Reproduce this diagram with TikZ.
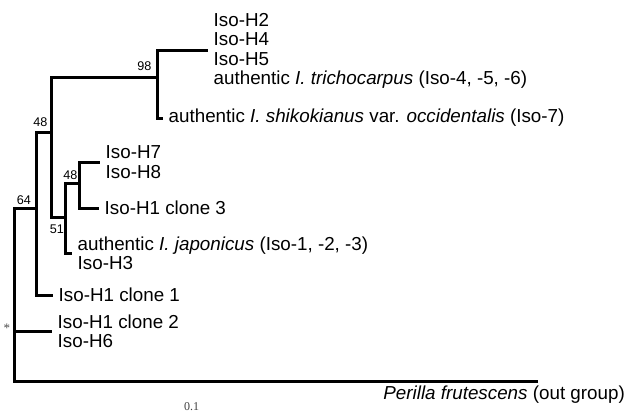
\documentclass[tikz,border=0pt]{standalone}
\usepackage{fontspec}
\setmainfont{Liberation Sans}
\newfontfamily\barlabelfont{Liberation Serif}
\begin{document}
\begin{tikzpicture}[
  x=1pt,y=-1pt,
  branch/.style={line width=3pt},
  leaf/.style={anchor=west,align=left,inner xsep=5.5pt,inner ysep=0pt,
    font=\fontsize{18.8}{19.3}\selectfont},
  boot/.style={inner sep=0pt,font=\fontsize{12.6}{13}\selectfont}
]
  \useasboundingbox (0,0) rectangle (627,412);
  \coordinate (root) at (14,331);
  \coordinate (n64) at (36,208);
  \coordinate (n48a) at (51,132);
  \coordinate (n98) at (157,78);
  \coordinate (n51) at (65,217);
  \coordinate (n48b) at (79,183);
  \coordinate (out tip) at (538,381);
  \node [leaf] (tri) at (208,51)
    {Iso-H2\\Iso-H4\\Iso-H5\\authentic \textit{I. trichocarpus} (Iso-4, -5, -6)};
  \node [leaf] (shi) at (163,118)
    {authentic \textit{I. shikokianus} var. \textit{occidentalis} (Iso-7)};
  \node [leaf] (h78) at (100,162) {Iso-H7\\Iso-H8};
  \node [leaf] (c3) at (99,208) {Iso-H1 clone 3};
  \node [leaf] (jap) at (72,253)
    {authentic \textit{I. japonicus} (Iso-1, -2, -3)\\Iso-H3};
  \node [leaf] (c1) at (53,295) {Iso-H1 clone 1};
  \node [leaf] (c2) at (52,331) {Iso-H1 clone 2\\Iso-H6};
  \node [leaf,anchor=base east,inner xsep=0pt] (out) at (625,399.5)
    {\textit{Perilla frutescens} (out group)};
  \foreach \a/\b in {root/n64,root/out tip,root/c2,n64/n48a,n64/c1,
    n48a/n98,n48a/n51,n98/tri,n98/shi,n51/n48b,n51/jap,n48b/h78,n48b/c3}{
    \draw [branch] (\a) |- (\b);
  }
  \node [boot] (b98) at (144.5,66) {98};
  \node [boot] (b48a) at (40.5,122.5) {48};
  \node [boot] (b48b) at (70.5,175.3) {48};
  \node [boot] (b64) at (24,200.5) {64};
  \node [boot] (b51) at (57,229.5) {51};
  \node [inner sep=0pt,black!70,font=\barlabelfont\fontsize{13}{13}\selectfont]
    (star) at (7,328) {*};
  \node [anchor=base,inner sep=0pt,black!75,font=\barlabelfont\fontsize{12}{12}\selectfont]
    (scale) at (191.5,410) {0.1};
\end{tikzpicture}
\end{document}
